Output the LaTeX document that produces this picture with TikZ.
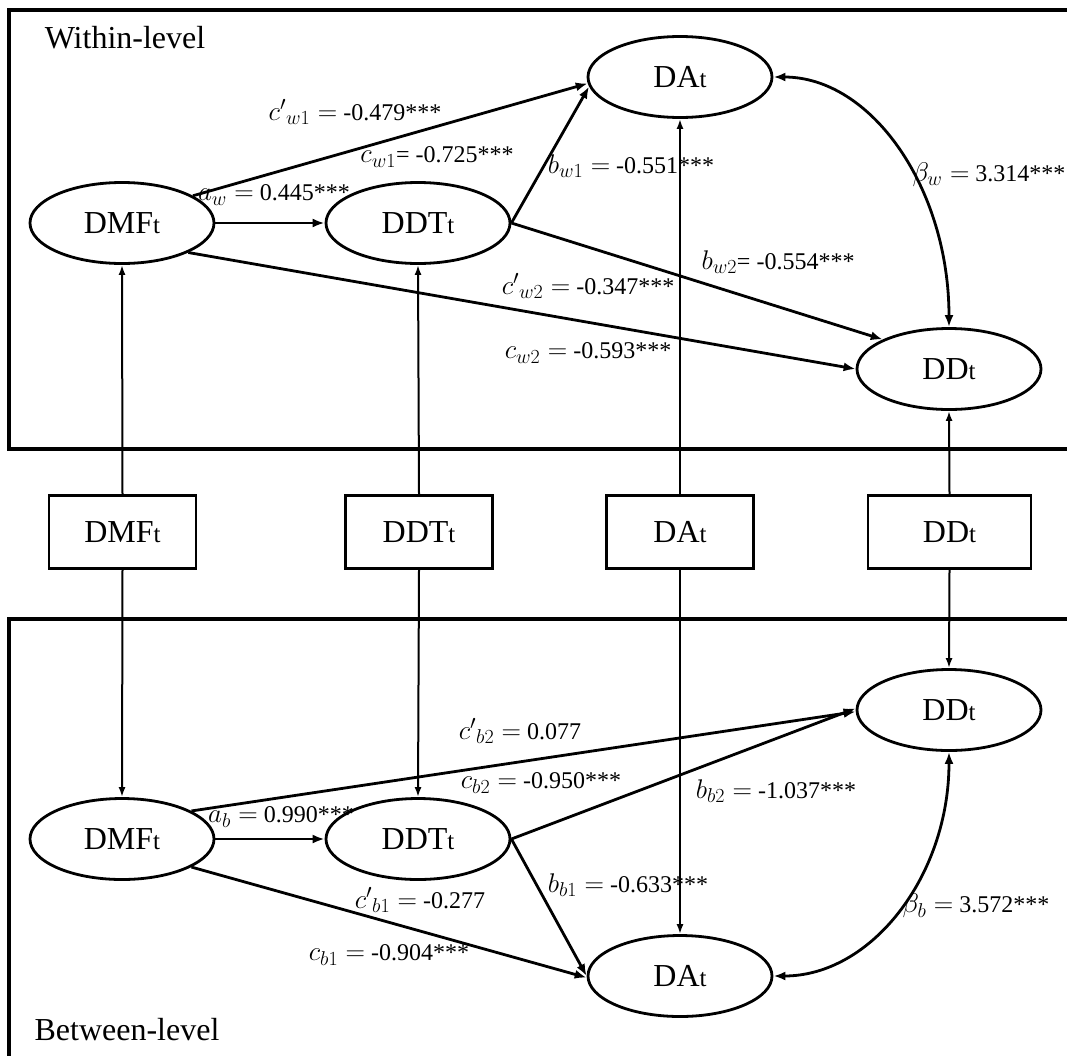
\documentclass[tikz,border=0pt]{standalone}
\usepackage{fix-cm}
\usepackage{fontspec}
\setmainfont{Liberation Serif}
\DeclareMathSizes{24}{27}{20}{15}
\usetikzlibrary{arrows.meta,shapes.geometric}
\newcommand{\mysubt}{{\fontsize{25}{25}\selectfont t}}
\begin{document}
\begin{tikzpicture}[x=1pt,y=-1pt,
  lat/.style={ellipse,draw,line width=2.8pt,minimum width=184pt,minimum height=81pt,inner sep=0pt,font=\fontsize{32}{36}\selectfont},
  obs/.style={rectangle,draw,line width=2.8pt,minimum width=147pt,minimum height=73pt,inner sep=0pt,font=\fontsize{32}{36}\selectfont},
  conn/.style={line width=2.8pt,-{Latex[length=12pt,width=9pt]}},
  vert/.style={line width=2pt,-{Latex[length=10pt,width=7pt]}},
  dbl/.style={line width=2.8pt,{Latex[length=12pt,width=9pt]}-{Latex[length=12pt,width=9pt]}},
  lab/.style={inner sep=0pt,font=\fontsize{24}{28}\selectfont},
  lvl/.style={inner sep=0pt,font=\fontsize{32}{36}\selectfont},
  frame/.style={line width=3.2pt}
]
\useasboundingbox (0,0) rectangle (1067,1055);
\fill[white] (0,0) rectangle (1067,1055);

% frames
\draw[frame] (1075,10) -- (9,10) -- (9,449) -- (1075,449);
\draw[frame] (1075,619) -- (9,619) -- (9,1065);

\node[lvl] (wl) at (125,38) {Within-level};
\node[lvl] (bl) at (127,1030) {Between-level};

% within-level latent variables
\node[lat] (wDMF) at (122,223) {DMF\mysubt};
\node[lat] (wDDT) at (418,223) {DDT\mysubt};
\node[lat] (wDA)  at (680,77)  {DA\mysubt};
\node[lat] (wDD)  at (949,369) {DD\mysubt};

% observed variables
\node[obs] (oDMF) at (122.5,532) {DMF\mysubt};
\node[obs] (oDDT) at (419,532) {DDT\mysubt};
\node[obs] (oDA)  at (680,532) {DA\mysubt};
\node[obs,minimum width=163pt] (oDD) at (949.5,532) {DD\mysubt};

% between-level latent variables
\node[lat] (bDMF) at (122,839) {DMF\mysubt};
\node[lat] (bDDT) at (418,839) {DDT\mysubt};
\node[lat] (bDA)  at (680,976) {DA\mysubt};
\node[lat] (bDD)  at (949,710) {DD\mysubt};

% vertical connectors
\draw[vert] (oDMF.north) -- (wDMF.south);
\draw[vert] (oDDT.north) -- (wDDT.south);
\draw[vert] (oDA.north) -- (wDA.south);
\draw[vert] (oDD.north) -- (wDD.south);
\draw[vert] (oDMF.south) -- (bDMF.north);
\draw[vert] (oDDT.south) -- (bDDT.north);
\draw[vert] (oDA.south) -- (bDA.north);
\draw[vert] (oDD.south) -- (bDD.north);

% within-level paths
\draw[conn] (wDMF.21) -- (wDA.184);
\draw[conn] (wDMF.east) -- (wDDT.west);
\draw[conn] (wDDT.east) -- (wDA.186);
\draw[conn] (wDDT.east) -- (wDD.156);
\draw[conn] (wDMF.336) -- (wDD.west);
\draw[dbl] (wDA.east) .. controls +(98,0) and +(0,-139) .. (wDD.north);

% between-level paths
\draw[conn] (bDMF.east) -- (bDDT.west);
\draw[conn] (bDMF.22) -- (bDD.181);
\draw[conn] (bDDT.east) -- (bDD.179);
\draw[conn] (bDDT.east) -- (bDA.west);
\draw[conn] (bDMF.338) -- (bDA.181);
\draw[dbl] (bDA.east) .. controls +(98,0) and +(0,124) .. (bDD.south);

% within-level labels
\node[lab] (l1) at (355,112) {${c'}_{w1}=$ -0.479***};
\node[lab] (l2) at (437,157) {$c_{w1}$= -0.725***};
\node[lab] (l3) at (274,195) {$a_{w}=$ 0.445***};
\node[lab] (l4) at (631,166) {$b_{w1}=$ -0.551***};
\node[lab] (l5) at (989,175) {$\beta_{w}=$ 3.314***};
\node[lab] (l6) at (778,262) {$b_{w2}$= -0.554***};
\node[lab] (l7) at (588,286) {${c'}_{w2}=$ -0.347***};
\node[lab] (l8) at (588,353) {$c_{w2}=$ -0.593***};

% between-level labels
\node[lab] (m1) at (281,817) {$a_{b}=$ 0.990***};
\node[lab] (m2) at (520,731) {${c'}_{b2}=$ 0.077};
\node[lab] (m3) at (541,783) {$c_{b2}=$ -0.950***};
\node[lab] (m4) at (776,791) {$b_{b2}=$ -1.037***};
\node[lab] (m5) at (628,885) {$b_{b1}=$ -0.633***};
\node[lab] (m6) at (420,900) {${c'}_{b1}=$ -0.277};
\node[lab] (m7) at (389,955) {$c_{b1}=$ -0.904***};
\node[lab] (m8) at (976,906) {$\beta_{b}=$ 3.572***};
\end{tikzpicture}
\end{document}
